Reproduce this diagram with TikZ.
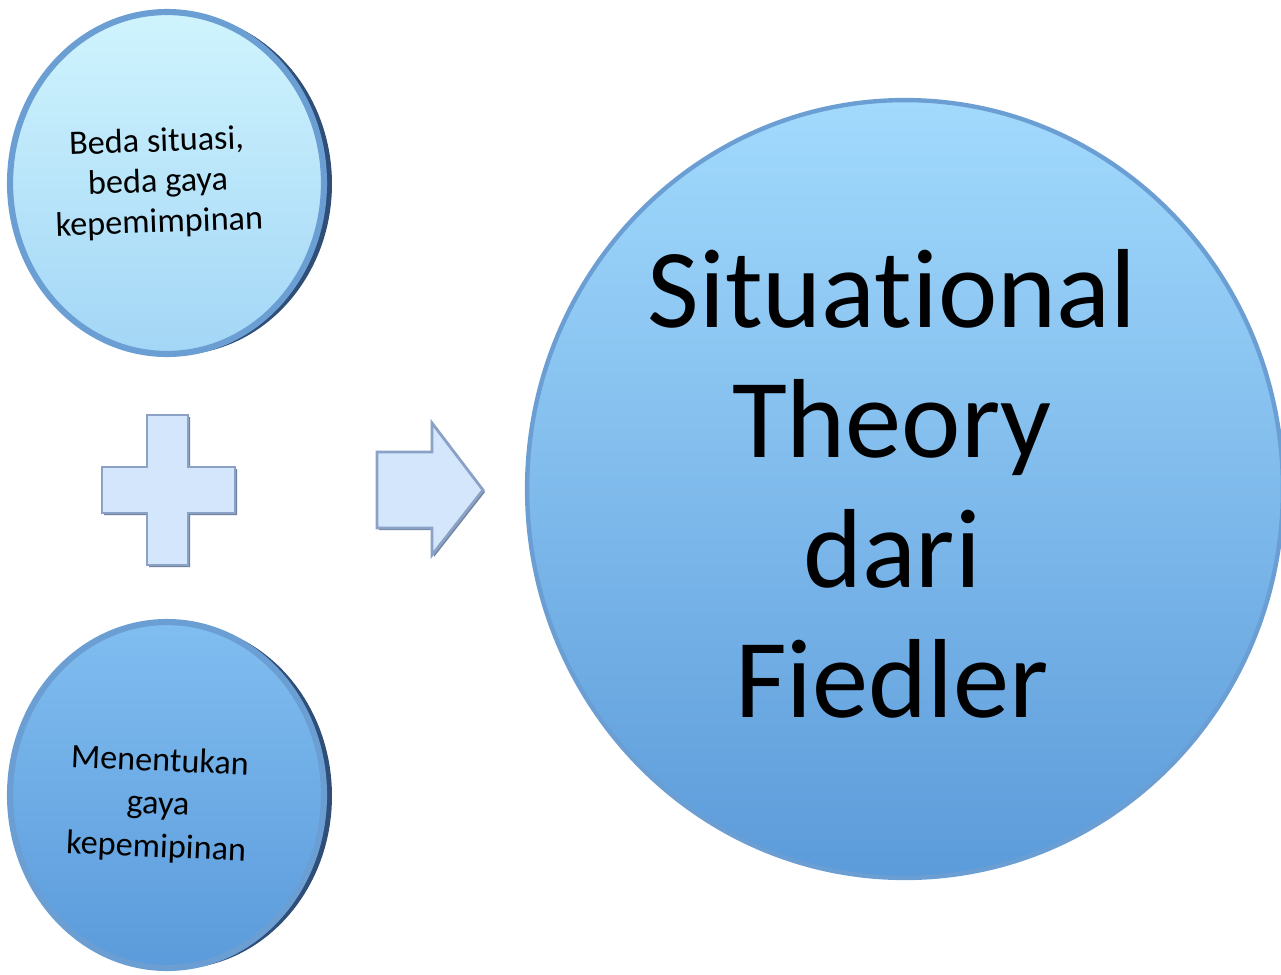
\documentclass[tikz,border=0pt]{standalone}
\usepackage{fontspec}
\setmainfont{Carlito}[Ligatures=CommonOff]
\usetikzlibrary{shapes.geometric}

\definecolor{rimblue}{HTML}{6B9FD3}
\definecolor{rimdark}{HTML}{2F4E78}
\definecolor{paletop}{HTML}{CFF4FD}
\definecolor{palebot}{HTML}{A3D6F6}
\definecolor{midtop}{HTML}{80BDF0}
\definecolor{midbot}{HTML}{5B9BDB}
\definecolor{bigtop}{HTML}{A2DAFD}
\definecolor{bigbot}{HTML}{5C9BDA}
\definecolor{signfill}{HTML}{D3E6FB}
\definecolor{signline}{HTML}{8BA2C6}

\tikzset{
  bubble/.style={ellipse, draw=rimblue, line width=3.5pt, inner sep=0pt},
  rimshadow/.style={ellipse, fill=rimdark, draw=none, inner sep=0pt},
  sign/.style={fill=signfill, draw=signline, line width=1.6pt, line join=miter},
  small/.style={align=center, font=\fontsize{19.5}{23}\selectfont},
}

\begin{document}
\begin{tikzpicture}[x=0.02cm, y=-0.02cm]
\useasboundingbox (0,0) rectangle (1281,974);

% Draw the two small circles with a dark rim on the right
\node[rimshadow, minimum width=6.28cm, minimum height=6.84cm] (s1) at (175,184) {};
\node[bubble, top color=paletop, bottom color=palebot,
      minimum width=6.28cm, minimum height=6.84cm] (c1) at (167,183) {};
\node[rimshadow, minimum width=6.28cm, minimum height=6.92cm] (s2) at (175,796) {};
\node[bubble, top color=midtop, bottom color=midbot,
      minimum width=6.28cm, minimum height=6.92cm] (c2) at (167,795) {};

% Labels in the small circles
\node[small, rotate=2] (t1) at (158,183) {Beda situasi,\\beda gaya\\kepemimpinan};
\node[small, rotate=-2.5, font=\fontsize{19.5}{24.5}\selectfont] (t2) at (158,805)
  {Menentukan\\gaya\\kepemipinan};

% Draw the big circle
\node[bubble, line width=2.5pt, top color=bigtop, bottom color=bigbot,
      minimum width=15.12cm, minimum height=15.56cm] (big) at (905,489) {};
\node[align=center, font=\fontsize{64}{74}\selectfont] (title) at (892,484)
  {Situational\\Theory\\dari\\Fiedler};

% Draw the plus sign
\fill[signline!80!black, shift={(2,2)}] (147,415) -- (188,415) -- (188,467) -- (235,467)
  -- (235,513) -- (188,513) -- (188,565) -- (147,565) -- (147,513) -- (102,513)
  -- (102,467) -- (147,467) -- cycle;
\filldraw[sign] (147,415) -- (188,415) -- (188,467) -- (235,467)
  -- (235,513) -- (188,513) -- (188,565) -- (147,565) -- (147,513) -- (102,513)
  -- (102,467) -- (147,467) -- cycle;

% Draw the arrow
\fill[signline!80!black, shift={(2,2)}] (377,452) -- (432,452) -- (432,423) -- (483,490)
  -- (432,555) -- (432,528) -- (377,528) -- cycle;
\filldraw[sign] (377,452) -- (432,452) -- (432,423) -- (483,490)
  -- (432,555) -- (432,528) -- (377,528) -- cycle;

\end{tikzpicture}
\end{document}
